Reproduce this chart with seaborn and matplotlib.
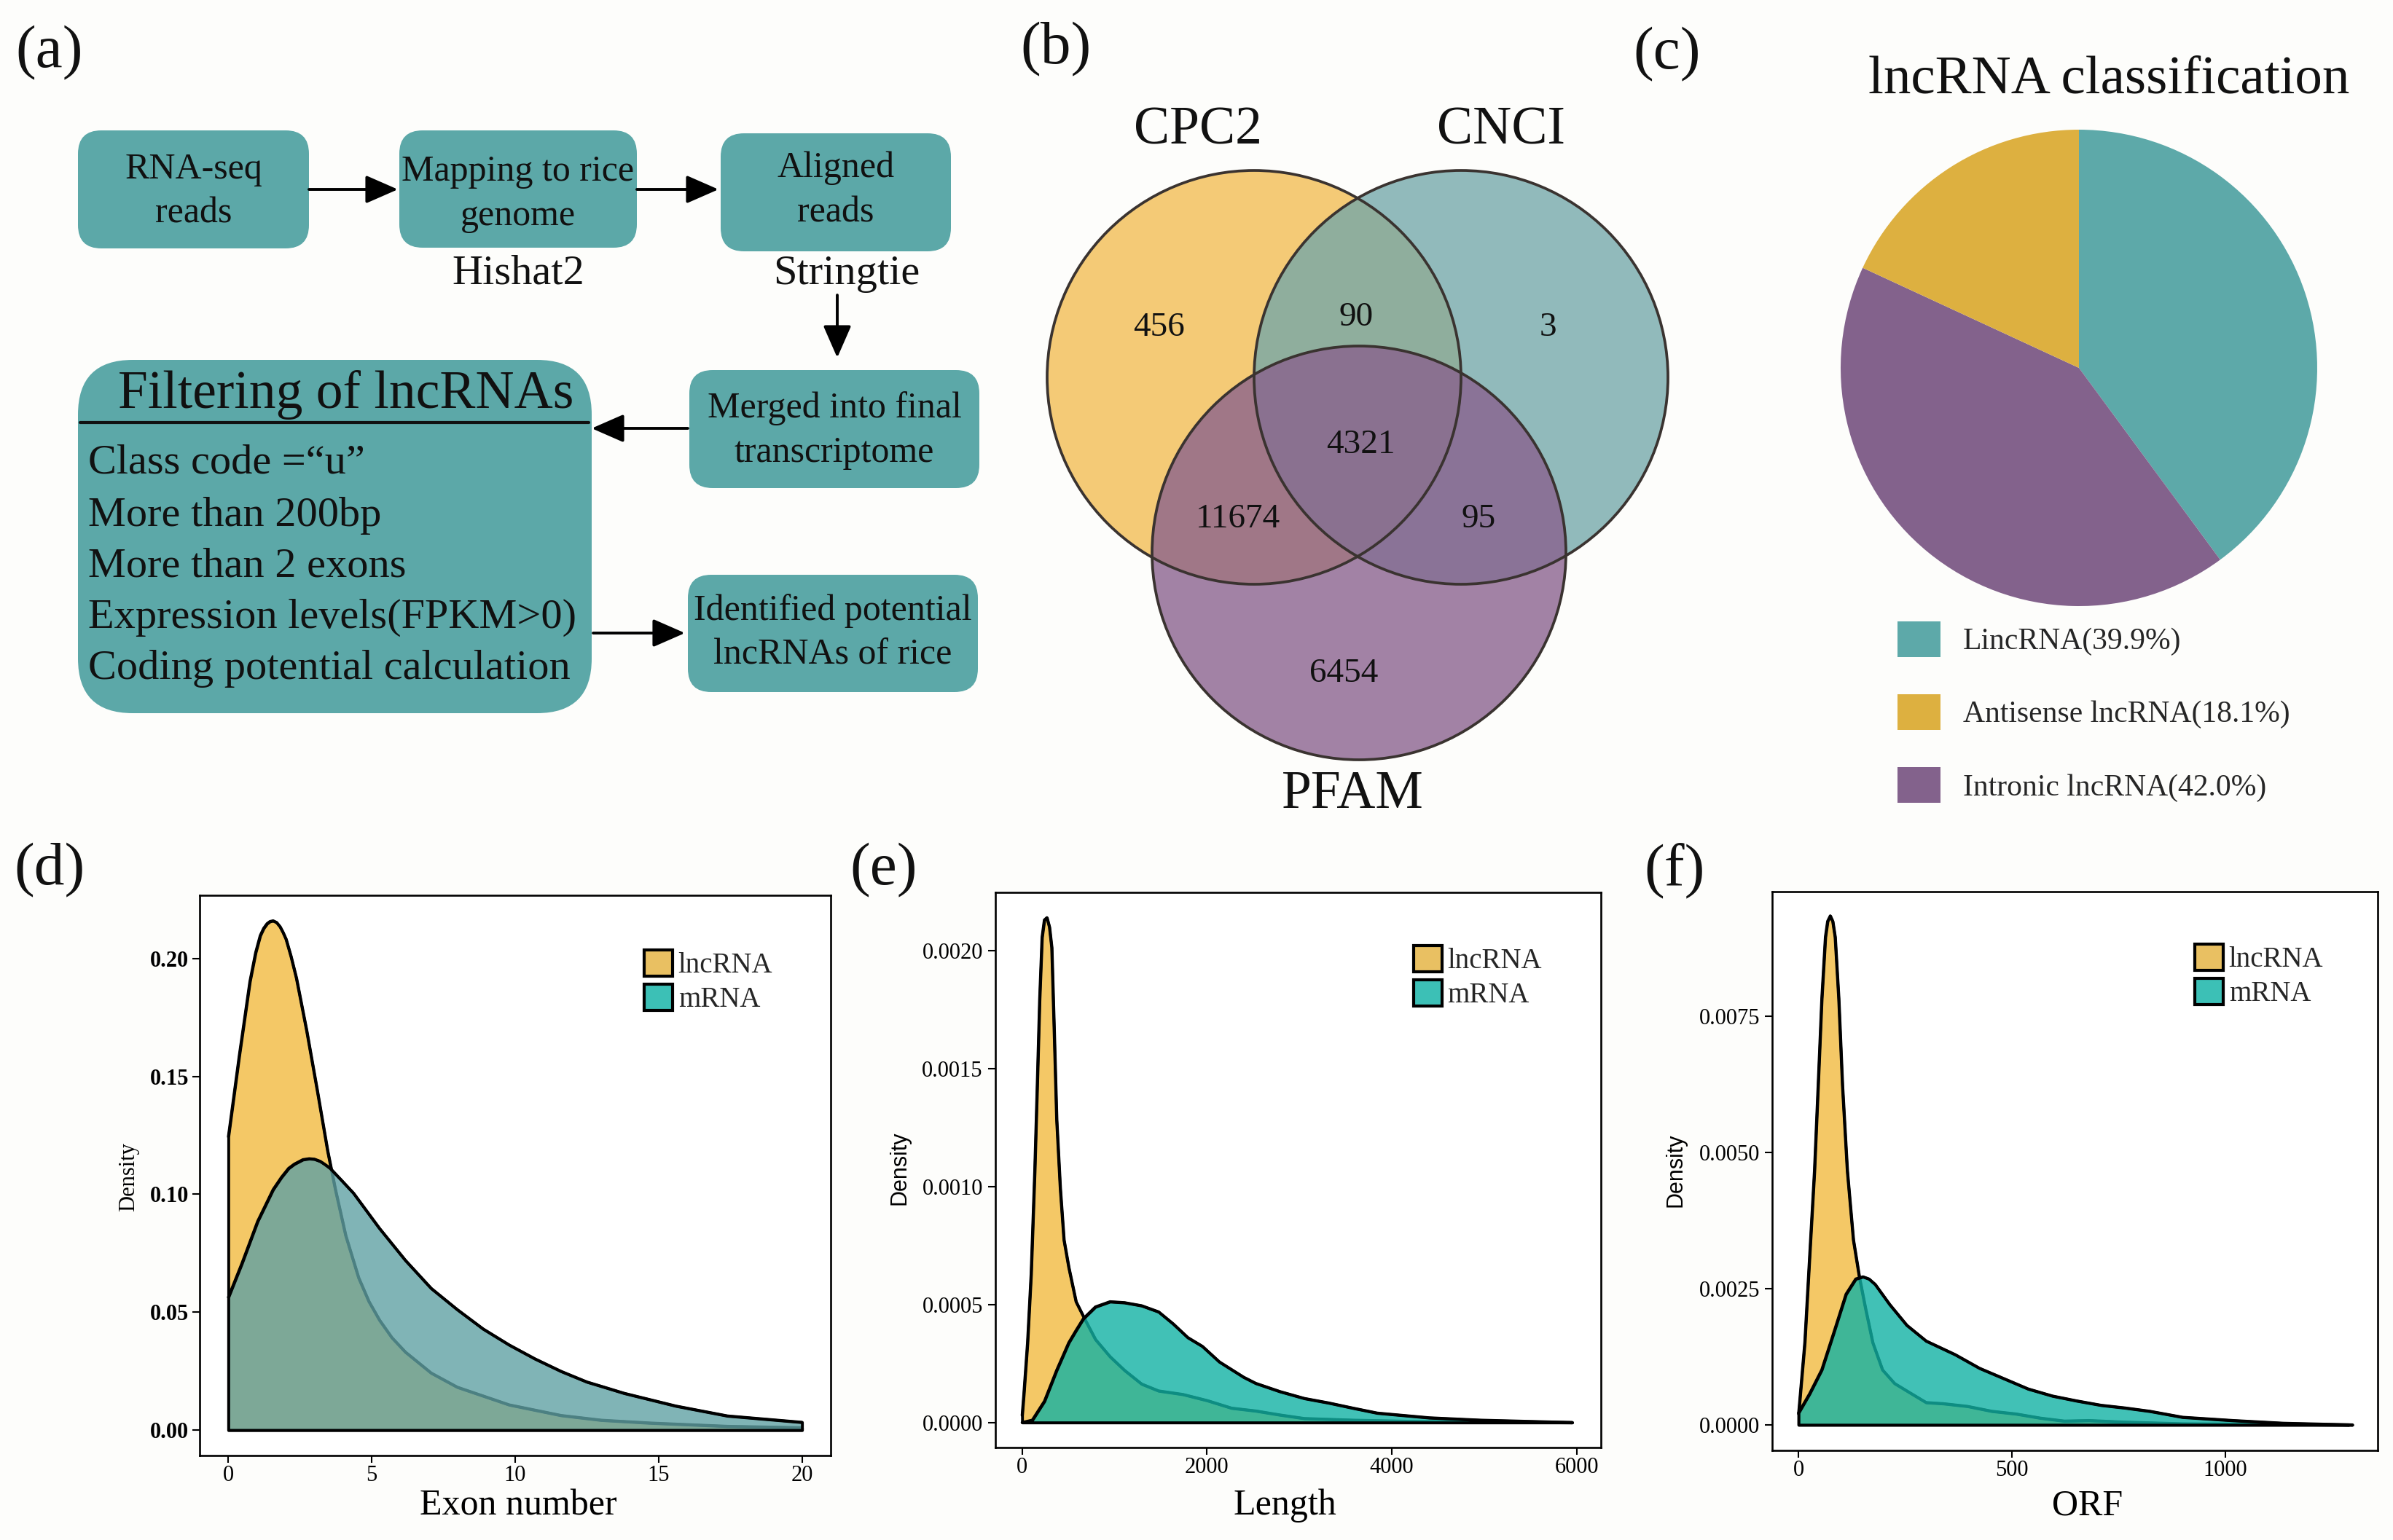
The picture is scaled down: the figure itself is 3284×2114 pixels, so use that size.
import matplotlib
matplotlib.use("Agg")
import pandas as pd
import seaborn as sns
import matplotlib.pyplot as plt
from matplotlib.patches import FancyBboxPatch, Circle, Patch

# ---------------- data ----------------
flow_steps = [["RNA-seq", "reads"], ["Mapping to rice", "genome"], ["Aligned", "reads"],
              ["Merged into final", "transcriptome"], ["Identified potential", "lncRNAs of rice"]]
tool_labels = ["Hishat2", "Stringtie"]
filter_title = "Filtering of lncRNAs"
filter_rules = ["Class code =\u201cu\u201d", "More than 200bp", "More than 2 exons",
                "Expression levels(FPKM>0)", "Coding potential calculation"]

venn_sets = ["CPC2", "CNCI", "PFAM"]
venn_regions = ["CPC2", "CPC2&CNCI", "CNCI", "all", "CPC2&PFAM", "CNCI&PFAM", "PFAM"]
venn_counts = [456, 90, 3, 4321, 11674, 95, 6454]

pie_names = ["LincRNA", "Antisense lncRNA", "Intronic lncRNA"]
pie_pct = [39.9, 18.1, 42.0]

# (d) exon number density
exon_x_lnc = [0, 0.38, 0.75, 0.95, 1.11, 1.23, 1.35, 1.45, 1.56, 1.68, 1.8, 1.9, 2.01, 2.18,
              2.37, 2.73, 3.10, 3.46, 3.73, 4.09, 4.54, 4.9, 5.27, 5.7, 6.17, 7.07, 7.98, 9.79,
              11.6, 13.0, 14.7, 17.4, 20]
exon_y_lnc = [0.1244, 0.1588, 0.1902, 0.2025, 0.2097, 0.2128, 0.2148, 0.2157, 0.216, 0.2153,
              0.2135, 0.2112, 0.2082, 0.2010, 0.1917, 0.1693, 0.1439, 0.1184, 0.102, 0.0825,
              0.0646, 0.0545, 0.0466, 0.0392, 0.0331, 0.0242, 0.0182, 0.0107, 0.0062, 0.0042,
              0.0030, 0.0016, 0.0010]
exon_x_mrna = [0, 0.47, 1.02, 1.56, 1.85, 2.10, 2.3, 2.6, 2.82, 3.0, 3.2, 3.35, 3.55, 3.9,
               4.36, 5.27, 6.17, 7.07, 7.98, 8.88, 9.79, 10.69, 11.6, 12.5, 13.1, 13.8, 15.6,
               17.4, 20]
exon_y_mrna = [0.0563, 0.0706, 0.0885, 0.102, 0.1072, 0.111, 0.1128, 0.1147, 0.1151, 0.1149,
               0.1140, 0.1128, 0.111, 0.1065, 0.1005, 0.0855, 0.072, 0.0601, 0.0511, 0.0429,
               0.0361, 0.0302, 0.0249, 0.0204, 0.0182, 0.0156, 0.0102, 0.006, 0.0033]

# (e) length density
len_x_lnc = [0, 18, 58, 97, 136, 163, 189, 215, 240, 268, 295, 320, 347, 373, 412, 452, 504,
             583, 675, 793, 951, 1108, 1293, 1476, 1739, 2002, 2265, 2527, 2790, 3053, 3578,
             4200, 5000, 5950]
len_y_lnc = [0.00003, 0.000119, 0.000338, 0.00063, 0.001066, 0.00143, 0.001794, 0.002056,
             0.00213, 0.00214, 0.00210, 0.002013, 0.001648, 0.001285, 0.000993, 0.000774,
             0.000658, 0.000512, 0.00044, 0.000352, 0.000279, 0.000221, 0.000163, 0.000134,
             0.000119, 0.000093, 0.000061, 0.000049, 0.000032, 0.000017, 0.00001, 0.000005,
             0.000002, 0.0]
len_x_mrna = [0, 110, 241, 373, 504, 583, 662, 793, 951, 1108, 1293, 1476, 1634, 1792, 1949,
              2133, 2396, 2527, 2790, 3053, 3315, 3578, 3841, 4405, 4957, 5950]
len_y_mrna = [0.0, 0.00001, 0.00009, 0.000221, 0.000338, 0.00039, 0.00044, 0.00049, 0.000512,
              0.000508, 0.000495, 0.000469, 0.000418, 0.00036, 0.000323, 0.000257, 0.000192,
              0.000166, 0.000131, 0.000102, 0.000083, 0.000061, 0.00004, 0.00002, 0.00001, 0.0]

# (f) ORF density
orf_x_lnc = [0, 14.5, 25.8, 37.2, 45.8, 54.3, 62.8, 68, 74.3, 80, 85.6, 94.1, 102.7, 114.1,
             128.3, 142.5, 156.8, 173.8, 196.6, 225, 265, 299, 339, 396, 453, 510, 567, 623,
             680, 766, 900, 1100, 1290]
orf_y_lnc = [0.0002, 0.00151, 0.00309, 0.00467, 0.00624, 0.00782, 0.00896, 0.00925, 0.00935,
             0.00925, 0.00896, 0.00782, 0.00624, 0.00467, 0.0034, 0.00271, 0.00214, 0.00151,
             0.00101, 0.00076, 0.00057, 0.00041, 0.00039, 0.00034, 0.00025, 0.0002, 0.000124,
             0.00007, 0.00008, 0.00005, 0.00002, 0.00001, 0.0]
orf_x_mrna = [0, 25.8, 54.3, 82.8, 111.2, 134, 151, 165, 179.5, 213.6, 253.6, 299, 367, 424,
              481, 538, 595, 652, 709, 766, 823, 900, 1018, 1136, 1298]
orf_y_mrna = [0.00022, 0.00057, 0.00101, 0.0017, 0.0024, 0.00268, 0.00272, 0.00268, 0.00258,
              0.00221, 0.00183, 0.00154, 0.00129, 0.00104, 0.00085, 0.00066, 0.00053, 0.00044,
              0.00036, 0.00031, 0.00025, 0.00014, 0.00008, 0.00003, 0.0]

# ---------------- style ----------------
BG = "#fdfdfb"
BOX = "#5ca8a8"
GOLD = "#f4c866"
KEY_GOLD = "#e9c062"
KEY_TEAL = "#3cc0b6"
venn_colors = ["#f2bc51", "#73a7a9", "#89608d"]
pie_colors = ["#5da9a9", "#ddb040", "#83628c"]

sns.set_theme(style="white")
plt.rcParams["font.family"] = ["Liberation Serif", "DejaVu Serif"]
plt.rcParams["axes.unicode_minus"] = False

W, H = 3284, 2114
fig = plt.figure(figsize=(W / 100, H / 100), dpi=100, facecolor=BG)


def frac(x0, y0, x1, y1):
    return [x0 / W, 1 - y1 / H, (x1 - x0) / W, (y1 - y0) / H]


canvas = fig.add_axes([0, 0, 1, 1])
canvas.set_xlim(0, W)
canvas.set_ylim(H, 0)
canvas.axis("off")

# panel letters
for txt, (px, py) in zip(["(a)", "(b)", "(c)", "(d)", "(e)", "(f)"],
                         [(68, 73), (1449, 68), (2288, 75), (68, 1195), (1213, 1195), (2298, 1195)]):
    canvas.text(px, py, txt, fontsize=60, ha="center", va="center", color="#111111")

# ---------------- (a) flowchart ----------------
boxes = [(107, 179, 424, 341), (548, 179, 874, 340), (989, 183, 1305, 345),
         (946, 508, 1344, 670), (944, 789, 1342, 950)]
line_y = [(233, 293), (236, 297), (231, 292), (561, 622), (839, 899)]
for (x0, y0, x1, y1), lines, ys in zip(boxes, flow_steps, line_y):
    canvas.add_patch(FancyBboxPatch((x0, y0), x1 - x0, y1 - y0,
                                    boxstyle="round,pad=0,rounding_size=32",
                                    fc=BOX, ec="none"))
    cx = (x0 + x1) / 2
    for t, ty in zip(lines, ys):
        canvas.text(cx, ty, t, fontsize=36, ha="center", va="center", color="#111111")

canvas.add_patch(FancyBboxPatch((107, 494), 705, 485,
                                boxstyle="round,pad=0,rounding_size=75",
                                fc=BOX, ec="none"))
canvas.text(475, 542, filter_title, fontsize=53, ha="center", va="center", color="#111111")
canvas.plot([110, 808], [580, 580], color="#111111", lw=3)
for t, ty in zip(filter_rules, [635, 708, 778, 848, 918]):
    canvas.text(121, ty, t, fontsize=42, ha="left", va="center", color="#111111")

for t, (tx, ty) in zip(tool_labels, [(711, 375), (1162, 376)]):
    canvas.text(tx, ty, t, fontsize=42, ha="center", va="center", color="#111111")

arrows = [((424, 260), (546, 260)), ((874, 260), (986, 260)), ((1149, 405), (1149, 491)),
          ((944, 588), (812, 588)), ((814, 869), (940, 869))]
for start, end in arrows:
    canvas.annotate("", xy=end, xytext=start,
                    arrowprops=dict(arrowstyle="-|>,head_length=0.8,head_width=0.35",
                                    lw=2.8, color="black", mutation_scale=34,
                                    shrinkA=0, shrinkB=0))

# ---------------- (b) Venn ----------------
centers = [(1721, 518), (2005, 518), (1865, 759)]
R = 284
for (cx, cy), col in zip(centers, venn_colors):
    canvas.add_patch(Circle((cx, cy), R, fc=col, ec="none", alpha=0.78))
for cx, cy in centers:
    canvas.add_patch(Circle((cx, cy), R, fc="none", ec="#3a3330", lw=2.7))
for name, (tx, ty) in zip(venn_sets, [(1644, 198), (2060, 198), (1856, 1109)]):
    canvas.text(tx, ty, name, fontsize=53, ha="center", va="baseline", color="#111111")
region_pos = [(1591, 461), (1861, 447), (2124, 461), (1867, 622), (1699, 724), (2029, 724),
              (1844, 936)]
for n, (tx, ty) in zip(venn_counts, region_pos):
    canvas.text(tx, ty, str(n), fontsize=34, ha="center", va="baseline", color="#111111")

# ---------------- (c) pie ----------------
canvas.text(2894, 128, "lncRNA classification", fontsize=54, ha="center", va="baseline",
            color="#111111")
pax = fig.add_axes(frac(2526, 178, 3180, 832))
order = [0, 2, 1]
pax.pie([pie_pct[i] for i in order], colors=[pie_colors[i] for i in order],
        startangle=90, counterclock=False, wedgeprops=dict(linewidth=0, edgecolor="none"))
pax.set_xlim(-1, 1)
pax.set_ylim(-1, 1)
pax.set_aspect("equal")
pax.axis("off")
fig.legend(handles=[Patch(fc=c, ec="none") for c in pie_colors],
           labels=[f"{n}({p:.1f}%)" for n, p in zip(pie_names, pie_pct)],
           loc="upper left", bbox_to_anchor=(2604 / W, 1 - 853 / H),
           bbox_transform=fig.transFigure, frameon=False, fontsize=30,
           handlelength=1.415, handleheight=1.415, labelspacing=1.24,
           handletextpad=0.75, borderpad=0, borderaxespad=0)


# ---------------- (d)(e)(f) densities ----------------
def density_panel(rect, lx, ly, mx, my, mfill, xlim, ylim, xticks, yticks, yfmt, xlabel,
                  xlab_pos, ylab_pos, ylab_family, ybold, leg_anchor, ypad):
    ax = fig.add_axes(rect, facecolor="white")
    ax.fill_between(lx, 0, ly, facecolor=GOLD, edgecolor="black", lw=2.8, zorder=2)
    sns.lineplot(x=lx, y=ly, color="black", lw=2.8, ax=ax, zorder=2.5, estimator=None,
                 sort=False)
    ax.fill_between(mx, 0, my, facecolor=mfill, edgecolor="black", lw=2.8, zorder=3)
    sns.lineplot(x=mx, y=my, color="black", lw=2.8, ax=ax, zorder=3.5, estimator=None,
                 sort=False)
    ax.set_xlim(*xlim)
    ax.set_ylim(*ylim)
    ax.set_xticks(xticks)
    ax.set_xticklabels([str(v) for v in xticks])
    ax.set_yticks(yticks)
    ax.set_yticklabels([yfmt.format(v) for v in yticks],
                       fontweight="bold" if ybold else "normal")
    ax.tick_params(axis="both", direction="out", length=7, width=1.5, colors="black",
                   labelsize=22, bottom=True, left=True)
    ax.tick_params(axis="x", pad=2.5)
    ax.tick_params(axis="y", pad=ypad)
    for s in ax.spines.values():
        s.set_color("black")
        s.set_linewidth(1.9)
    ax.set_xlabel(xlabel, fontsize=36, color="black")
    ax.xaxis.set_label_coords(*xlab_pos)
    ax.set_ylabel("Density", fontsize=22, family=ylab_family, color="black")
    ax.yaxis.set_label_coords(*ylab_pos)
    ax.grid(False)
    handles = [Patch(fc=KEY_GOLD, ec="black", lw=3), Patch(fc=KEY_TEAL, ec="black", lw=3)]
    ax.legend(handles=handles, labels=["lncRNA", "mRNA"], loc="upper left",
              bbox_to_anchor=leg_anchor, frameon=False, fontsize=28,
              handlelength=1.0, handleheight=1.03, labelspacing=0.18,
              handletextpad=0.2, borderpad=0, borderaxespad=0)
    return ax


density_panel(frac(274, 1229, 1140, 1998), exon_x_lnc, exon_y_lnc, exon_x_mrna, exon_y_mrna,
              (96 / 255, 161 / 255, 164 / 255, 0.8), (-1, 21), (-0.0108, 0.2268),
              [0, 5, 10, 15, 20], [0, 0.05, 0.10, 0.15, 0.20], "{:.2f}", "Exon number",
              (0.505, -0.06), (-0.096, 0.497), ["Liberation Serif"], True,
              (0.7044, 0.9025), 3.5)

density_panel(frac(1365.5, 1225, 2196.8, 1987.3), len_x_lnc, len_y_lnc, len_x_mrna, len_y_mrna,
              (18 / 255, 178 / 255, 164 / 255, 0.8), (-293, 6259), (-0.000107, 0.002247),
              [0, 2000, 4000, 6000], [0, 0.0005, 0.0010, 0.0015, 0.0020], "{:.4f}", "Length",
              (0.479, -0.074), (-0.139, 0.504), ["Liberation Sans"], False,
              (0.691, 0.9042), 5)

density_panel(frac(2431.6, 1223.8, 3263.3, 1991), orf_x_lnc, orf_y_lnc, orf_x_mrna, orf_y_mrna,
              (18 / 255, 178 / 255, 164 / 255, 0.8), (-62.5, 1357.7), (-0.00047, 0.009797),
              [0, 500, 1000], [0, 0.0025, 0.0050, 0.0075], "{:.4f}", "ORF",
              (0.52, -0.069), (-0.141, 0.501), ["Liberation Sans"], False,
              (0.6979, 0.9059), 5)

fig.savefig("out.png", dpi=100, facecolor=BG)
